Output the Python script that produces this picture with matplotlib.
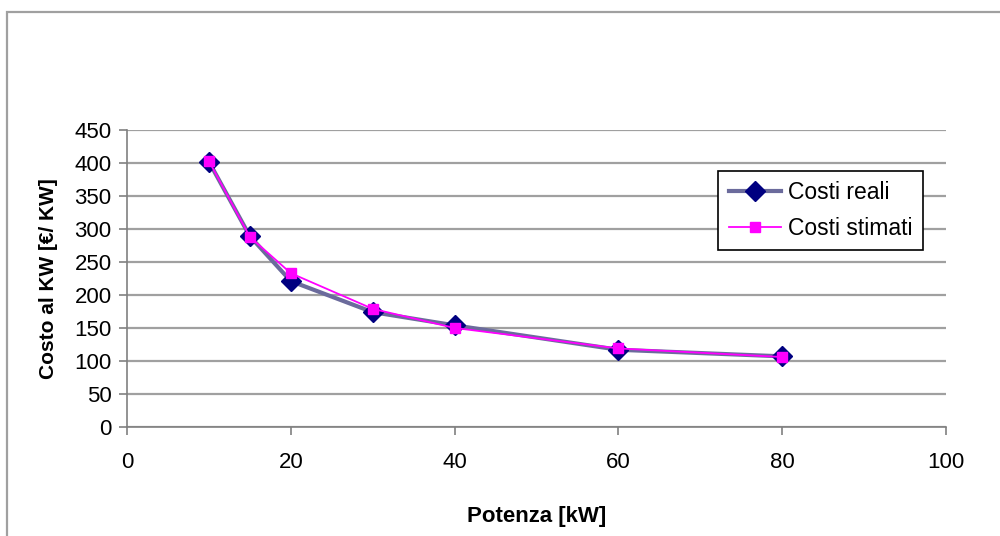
import matplotlib.pyplot as plt
from matplotlib.patches import Rectangle

# Data
potenza = [10, 15, 20, 30, 40, 60, 80]
costi_reali = [402, 289, 221, 174, 154, 117, 107]
costi_stimati = [403, 288, 233, 179, 150, 119, 106]

x_ticks = [0, 20, 40, 60, 80, 100]
y_ticks = [0, 50, 100, 150, 200, 250, 300, 350, 400, 450]

plt.rcParams['font.family'] = ['Liberation Sans Narrow', 'Liberation Sans', 'DejaVu Sans']

fig = plt.figure(figsize=(10, 5.36), dpi=100)

# outer chart border (Excel style)
fig.patches.append(Rectangle((0.007, -0.05), 1.1, 0.028 + 1.0, transform=fig.transFigure,
                             fill=False, edgecolor='#a0a0a0', linewidth=1.6))

ax = fig.add_axes([0.127, 0.2034, 0.819, 0.5541])

ax.plot(potenza, costi_reali, color='#6b6b9c', linewidth=3, marker='D',
        markersize=10, markerfacecolor='#000080', markeredgecolor='#000080',
        label='Costi reali', zorder=3)
ax.plot(potenza, costi_stimati, color='#ff00ff', linewidth=1.3, marker='s',
        markersize=7, markerfacecolor='#ff00ff', markeredgecolor='#ff00ff',
        label='Costi stimati', zorder=4)

ax.set_xlim(0, 100)
ax.set_ylim(0, 450)
ax.set_xticks(x_ticks)
ax.set_yticks(y_ticks)
ax.tick_params(labelsize=16, color='#808080', length=6, width=1.2, direction='out')
ax.tick_params(axis='x', pad=12)
ax.tick_params(axis='y', pad=5)
ax.grid(axis='y', color='#a0a0a0', linewidth=1.6)
ax.set_axisbelow(True)
for s in ['top', 'right']:
    ax.spines[s].set_visible(False)
for s in ['left', 'bottom']:
    ax.spines[s].set_color('#808080')
    ax.spines[s].set_linewidth(1.2)

ax.set_xlabel('Potenza [kW]', fontsize=16, fontweight='bold', labelpad=24)
ax.set_ylabel('Costo al KW [€/ KW]', fontsize=15, fontweight='bold', labelpad=12)

leg = ax.legend(loc='upper left', bbox_to_anchor=(0.722, 0.862), fontsize=16.5,
                frameon=True, fancybox=False, handlelength=2.3, borderpad=0.45,
                labelspacing=0.55, handletextpad=0.3, borderaxespad=0)
leg.get_frame().set_edgecolor('black')
leg.get_frame().set_linewidth(1.2)
leg.get_frame().set_alpha(1)

fig.savefig('out.png', dpi=100)
